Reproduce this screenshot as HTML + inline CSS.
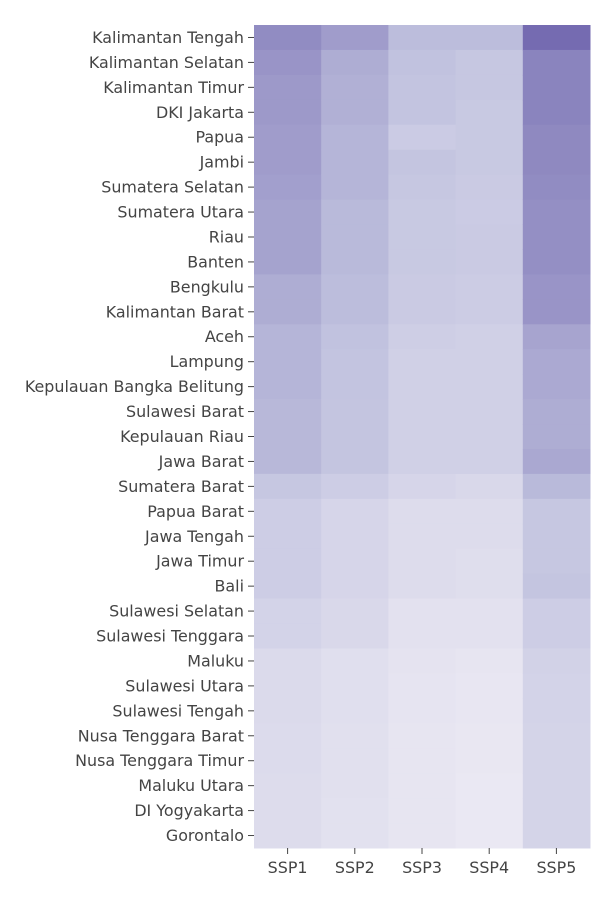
<!DOCTYPE html>
<html><head><meta charset="utf-8"><style>
body{margin:0;background:#fff;}
svg text{font-family:"DejaVu Sans","Liberation Sans",sans-serif;font-size:15.9px;fill:#444;}
</style></head><body>
<svg id="chart" width="600" height="900" xmlns="http://www.w3.org/2000/svg"></svg>
<script>
const rows=["Kalimantan Tengah","Kalimantan Selatan","Kalimantan Timur","DKI Jakarta","Papua","Jambi","Sumatera Selatan","Sumatera Utara","Riau","Banten","Bengkulu","Kalimantan Barat","Aceh","Lampung","Kepulauan Bangka Belitung","Sulawesi Barat","Kepulauan Riau","Jawa Barat","Sumatera Barat","Papua Barat","Jawa Tengah","Jawa Timur","Bali","Sulawesi Selatan","Sulawesi Tenggara","Maluku","Sulawesi Utara","Sulawesi Tengah","Nusa Tenggara Barat","Nusa Tenggara Timur","Maluku Utara","DI Yogyakarta","Gorontalo"];
const cols=["SSP1","SSP2","SSP3","SSP4","SSP5"];
const ssp1=[0.8,0.75,0.72,0.72,0.7,0.7,0.68,0.66,0.66,0.66,0.6,0.6,0.55,0.55,0.55,0.53,0.53,0.53,0.4,0.33,0.33,0.33,0.33,0.27,0.27,0.2,0.2,0.2,0.19,0.19,0.18,0.18,0.18];
const ssp2=[0.7,0.6,0.58,0.58,0.55,0.55,0.55,0.52,0.52,0.52,0.5,0.5,0.45,0.43,0.43,0.42,0.42,0.42,0.33,0.25,0.25,0.25,0.25,0.22,0.22,0.15,0.15,0.15,0.14,0.14,0.14,0.13,0.13];
const ssp3=[0.5,0.45,0.43,0.43,0.35,0.42,0.4,0.38,0.38,0.38,0.36,0.36,0.32,0.3,0.3,0.3,0.3,0.3,0.25,0.18,0.18,0.18,0.18,0.12,0.12,0.1,0.09,0.09,0.08,0.08,0.08,0.08,0.08];
const ssp4=[0.5,0.4,0.4,0.38,0.38,0.38,0.36,0.35,0.36,0.36,0.34,0.34,0.3,0.3,0.3,0.3,0.3,0.3,0.22,0.18,0.18,0.16,0.16,0.12,0.12,0.08,0.07,0.07,0.06,0.06,0.05,0.05,0.05];
const ssp5=[1.0,0.85,0.85,0.85,0.82,0.82,0.8,0.78,0.78,0.78,0.75,0.75,0.65,0.62,0.62,0.6,0.6,0.63,0.52,0.4,0.4,0.4,0.42,0.33,0.33,0.28,0.27,0.27,0.26,0.26,0.26,0.26,0.26];
const series=[ssp1,ssp2,ssp3,ssp4,ssp5];
const svg=document.getElementById('chart');
const NS='http://www.w3.org/2000/svg';
const x0=254,x1=590,y0=25,y1=848;
const cw=(x1-x0)/cols.length, ch=(y1-y0)/rows.length;
const xPos=i=>x0+i*cw, yPos=j=>y0+j*ch;
function color(v){
  const s=[[0,[239,237,245]],[0.5,[188,189,220]],[1,[117,107,177]]];
  let a=s[0],b=s[1]; if(v>0.5){a=s[1];b=s[2];}
  const t=(v-a[0])/(b[0]-a[0]);
  const c=a[1].map((k,i)=>Math.round(k+(b[1][i]-k)*t));
  return `rgb(${c.join(',')})`;
}
series.forEach((vals,i)=>{
  vals.forEach((v,j)=>{
    const r=document.createElementNS(NS,'rect');
    r.setAttribute('x',xPos(i));r.setAttribute('y',yPos(j));
    r.setAttribute('width',cw+0.5);r.setAttribute('height',ch+0.5);
    r.setAttribute('fill',color(v));
    
    
    svg.appendChild(r);
  });
});
rows.forEach((name,j)=>{
  const y=yPos(j)+ch/2;
  const t=document.createElementNS(NS,'text');
  t.setAttribute('x',244);t.setAttribute('y',y+5.5);t.setAttribute('text-anchor','end');
  t.textContent=name;
  
  
  svg.appendChild(t);
  const l=document.createElementNS(NS,'line');
  l.setAttribute('x1',248);l.setAttribute('x2',254);l.setAttribute('y1',y);l.setAttribute('y2',y);
  l.setAttribute('stroke','#444');
  
  
  svg.appendChild(l);
});
cols.forEach((name,i)=>{
  const x=xPos(i)+cw/2;
  const l=document.createElementNS(NS,'line');
  l.setAttribute('x1',x);l.setAttribute('x2',x);l.setAttribute('y1',848);l.setAttribute('y2',854);
  l.setAttribute('stroke','#444');
  
  
  svg.appendChild(l);
  const t=document.createElementNS(NS,'text');
  t.setAttribute('x',x);t.setAttribute('y',873);t.setAttribute('text-anchor','middle');
  t.textContent=name;
  
  
  svg.appendChild(t);
});
</script>
</body></html>
